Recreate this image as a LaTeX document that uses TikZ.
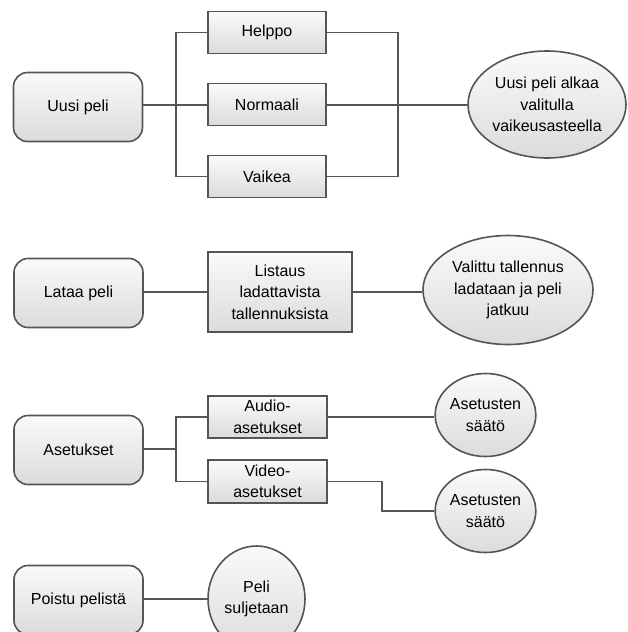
\documentclass[tikz,border=0pt]{standalone}
\usepackage{fontspec}
\setmainfont{Liberation Sans}
\usetikzlibrary{shapes.geometric}
\definecolor{edgegray}{HTML}{555555}
\tikzset{
  base/.style={draw=edgegray, line width=1.6pt, top color=gray!4, bottom color=gray!28,
    inner sep=0pt, align=center, font=\fontsize{16}{21.5}\selectfont},
  menubox/.style={base, rectangle, rounded corners=14pt, minimum width=129pt, minimum height=69pt},
  choicebox/.style={base, rectangle, minimum width=118pt, minimum height=42pt},
  resultbox/.style={base, ellipse},
  link/.style={draw=edgegray, line width=1.6pt}
}
\begin{document}
\begin{tikzpicture}[x=1pt,y=-1pt]
      \useasboundingbox (0,0) rectangle (628,632);

      % draw menu items
      \node[menubox] (uusi) at (78,107) {Uusi peli};
      \node[menubox] (lataa) at (78.5,293) {Lataa peli};
      \node[menubox] (asetukset) at (78.5,450) {Asetukset};
      \node[menubox] (poistu) at (78.5,600) {Poistu pelistä};

      % draw choices
      \node[choicebox] (helppo) at (267,32.5) {Helppo};
      \node[choicebox] (normaali) at (267,104.5) {Normaali};
      \node[choicebox] (vaikea) at (267,176.5) {Vaikea};
      \node[choicebox, minimum width=144pt, minimum height=80pt] (listaus) at (280,292)
        {Listaus\\ladattavista\\tallennuksista};
      \node[choicebox, minimum width=119pt] (audio) at (267.5,417) {Audio-\\asetukset};
      \node[choicebox, minimum width=119pt, minimum height=43pt] (video) at (267.5,481.5) {Video-\\asetukset};

      % draw results
      \node[resultbox, minimum width=158pt, minimum height=107pt] (alkaa) at (547,104.5)
        {Uusi peli alkaa\\valitulla\\vaikeusasteella};
      \node[resultbox, minimum width=170pt, minimum height=109pt] (valittu) at (508,290)
        {Valittu tallennus\\ladataan ja peli\\jatkuu};
      \node[resultbox, minimum width=99pt, minimum height=83pt] (saato1) at (485.5,415) {Asetusten\\säätö};
      \node[resultbox, minimum width=99pt, minimum height=83pt] (saato2) at (485.5,511) {Asetusten\\säätö};
      \node[resultbox, minimum width=97pt, minimum height=106pt] (peli) at (256.5,599) {Peli\\suljetaan};

      % draw junctions
      \coordinate (jL) at (176,105);
      \coordinate (jR) at (398,105);
      \coordinate (jA) at (176,449);
      \coordinate (kV) at (382,500);

      % draw connectors
      \draw[link] (uusi.east |- jL) -- (jL) |- (helppo.west);
      \draw[link] (jL) |- (vaikea.west);
      \draw[link] (jL) -- (normaali.west |- jL);
      \draw[link] (helppo.east) -| (jR);
      \draw[link] (vaikea.east) -| (jR);
      \draw[link] (normaali.east |- jR) -- (alkaa.west |- jR);
      \draw[link] (lataa.east |- listaus) -- (listaus.west);
      \draw[link] (listaus.east) -- (valittu.west |- listaus);
      \draw[link] (asetukset.east |- jA) -- (jA) |- (audio.west);
      \draw[link] (jA) |- (video.west);
      \draw[link] (audio.east) -- (saato1.west |- audio);
      \draw[link] (video.east) -| (kV) |- (saato2.west);
      \draw[link] (poistu.east |- peli) -- (peli.west);

\end{tikzpicture}
\end{document}
